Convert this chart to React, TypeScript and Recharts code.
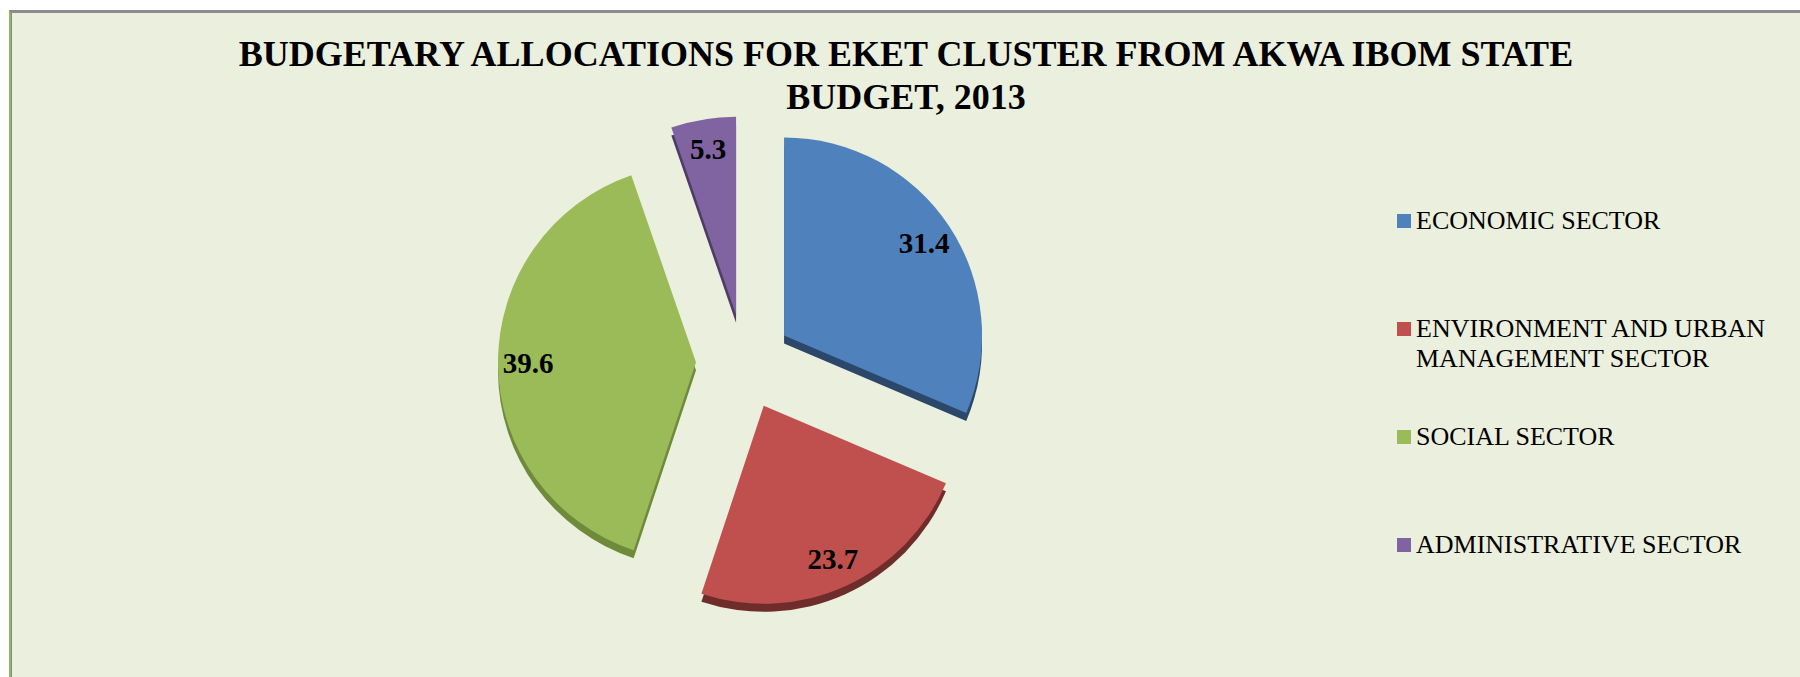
import { PieChart, Pie, Cell } from 'recharts';

const sectors = [
  'ECONOMIC SECTOR',
  'ENVIRONMENT AND URBAN MANAGEMENT SECTOR',
  'SOCIAL SECTOR',
  'ADMINISTRATIVE SECTOR',
];
const shares = [31.4, 23.7, 39.6, 5.3];
const topColors = ['#4F81BD', '#C0504D', '#9BBB59', '#8064A2'];
const sideColors = ['#2B4769', '#6E2C2A', '#6F8A3A', '#4F3C66'];
const titleLines = ['BUDGETARY ALLOCATIONS FOR EKET CLUSTER FROM AKWA IBOM STATE', 'BUDGET, 2013'];

const data = sectors.map((name, i) => ({ name, value: shares[i] }));
const total = shares.reduce((a, b) => a + b, 0);

const W = 1788;
const H = 664;
const CX = 732;
const CY = 349;
const R = 198;
const EXPLODE = 48;
const DEPTH = 8;
const SERIF = '"Liberation Serif", "Times New Roman", serif';

// mid angle of each slice (clockwise from 12 o'clock), used for the explode offset
const midAngles = shares.map((v, i) => {
  const before = shares.slice(0, i).reduce((a, b) => a + b, 0);
  return 90 - (360 * (before + v / 2)) / total;
});

const sliceCenter = (i: number) => {
  const rad = (midAngles[i] * Math.PI) / 180;
  return { cx: CX + EXPLODE * Math.cos(rad), cy: CY - EXPLODE * Math.sin(rad) };
};

const makeLabel = (only: number) => (props: any) => {
  if (props.index !== only) return null;
  const rad = (props.midAngle * Math.PI) / 180;
  const r = props.outerRadius - 30;
  const x = props.cx + r * Math.cos(rad);
  const y = props.cy - r * Math.sin(rad);
  return (
    <text x={x} y={y} textAnchor="middle" dominantBaseline="central"
      style={{ fontFamily: SERIF, fontWeight: 700, fontSize: 29, fill: '#000' }}>
      {shares[only]}
    </text>
  );
};

export default function App() {
  return (
    <div style={{
      position: 'absolute', left: 9, top: 10, width: 1791, height: 667,
      borderTop: '3px solid #8C8C8C', borderLeft: '2px solid #92B75A', boxSizing: 'border-box',
      background: '#EBEFDE',
    }}>
      <div style={{ position: 'absolute', left: 0, top: 0, width: W + 1, height: H, borderLeft: '1px solid #8C8C8C', boxSizing: 'border-box' }} />
      <div style={{ position: 'absolute', left: 1, top: 0, width: W, height: H }}>
        <div style={{
          position: 'absolute', left: 0, top: 20, width: W, textAlign: 'center',
          fontFamily: SERIF, fontWeight: 700, fontSize: 36, lineHeight: '43px', color: '#000',
        }}>
          {titleLines.map((t) => <div key={t}>{t}</div>)}
        </div>

        <PieChart width={W} height={H} margin={{ top: 0, right: 0, bottom: 0, left: 0 }}>
          {/* side faces for the 3-D look */}
          {sectors.map((_, i) => {
            const c = sliceCenter(i);
            return (
              <Pie key={`side-${i}`} data={data} dataKey="value" nameKey="name"
                cx={c.cx} cy={c.cy + DEPTH} outerRadius={R} startAngle={90} endAngle={-270}
                isAnimationActive={false} labelLine={false}>
                {data.map((_, j) => (
                  <Cell key={j} fill={j === i ? sideColors[i] : 'none'} stroke="none" />
                ))}
              </Pie>
            );
          })}
          {sectors.map((_, i) => {
            const c = sliceCenter(i);
            return (
              <Pie key={`top-${i}`} data={data} dataKey="value" nameKey="name"
                cx={c.cx} cy={c.cy} outerRadius={R} startAngle={90} endAngle={-270}
                isAnimationActive={false} labelLine={false} label={makeLabel(i)}>
                {data.map((_, j) => (
                  <Cell key={j} fill={j === i ? topColors[i] : 'none'} stroke="none" />
                ))}
              </Pie>
            );
          })}
        </PieChart>

        {sectors.map((name, i) => (
          <div key={name} style={{ position: 'absolute', left: 1385, top: 193 + 108 * i, width: 400 }}>
            <div style={{ position: 'absolute', left: 0, top: 8, width: 14, height: 14, background: topColors[i] }} />
            <div style={{
              position: 'absolute', left: 19, top: 0, width: 370,
              fontFamily: SERIF, fontSize: 26, lineHeight: '30px', color: '#000',
            }}>
              {name}
            </div>
          </div>
        ))}
      </div>
    </div>
  );
}
